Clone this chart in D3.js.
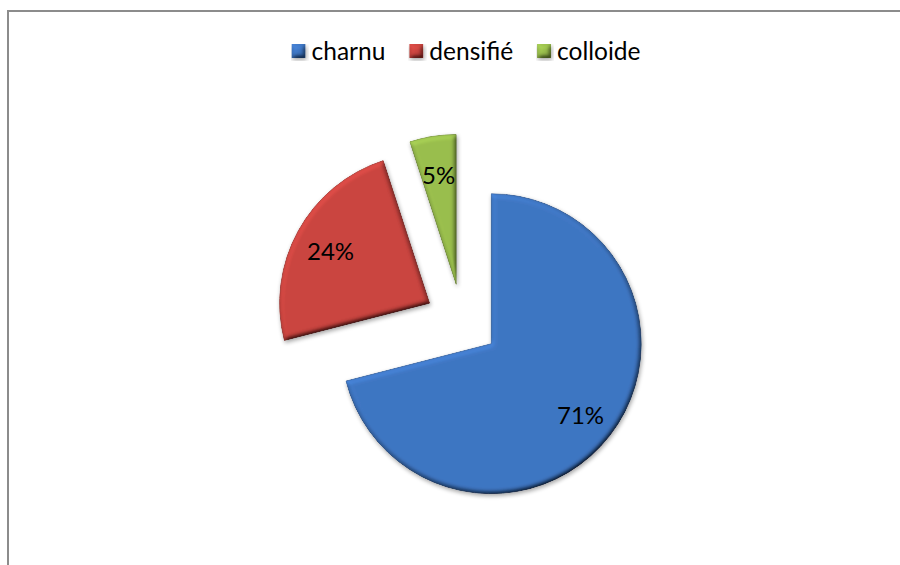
<!DOCTYPE html>
<html>
<head>
<meta charset="utf-8">
<script src="https://cdn.jsdelivr.net/npm/d3@7"></script>
<style>
  body { margin: 0; background: #fff; }
  text { font-family: Lato, "Open Sans", sans-serif; fill: #000; }
</style>
</head>
<body>
<div class="PieVis"></div>
<script>
// données
var categories = ["charnu", "densifié", "colloide"];
var values = [71, 24, 5];
var colors = ["#3f77c4", "#cb4540", "#9abf4d"];

var width = 900;
var height = 565;
var cx = 462, cy = 321;
var radius = 150;
var explode = 37;
var labelR = 113;

var svg = d3.select(".PieVis")
  .append("svg")
  .attr("width", width)
  .attr("height", height);

var defs = svg.append("defs");

// effet biseau
var f = defs.append("filter")
  .attr("id", "bevel")
  .attr("x", "-10%").attr("y", "-10%")
  .attr("width", "130%").attr("height", "130%");
f.append("feGaussianBlur")
  .attr("in", "SourceAlpha")
  .attr("stdDeviation", 2.5)
  .attr("result", "blur");
f.append("feDiffuseLighting")
  .attr("in", "blur")
  .attr("surfaceScale", 4)
  .attr("diffuseConstant", 1)
  .attr("lighting-color", "#fff")
  .attr("result", "light")
  .append("feDistantLight")
  .attr("azimuth", 235)
  .attr("elevation", 55);
f.append("feComposite")
  .attr("in", "SourceGraphic")
  .attr("in2", "light")
  .attr("operator", "arithmetic")
  .attr("k1", 1.2).attr("k2", 0).attr("k3", 0).attr("k4", 0)
  .attr("result", "lit");
f.append("feComposite")
  .attr("in", "lit")
  .attr("in2", "SourceAlpha")
  .attr("operator", "in")
  .attr("result", "shape");
f.append("feGaussianBlur")
  .attr("in", "SourceAlpha")
  .attr("stdDeviation", 2)
  .attr("result", "sblur");
f.append("feOffset")
  .attr("in", "sblur")
  .attr("dx", 1).attr("dy", 2)
  .attr("result", "soff");
f.append("feComponentTransfer")
  .attr("in", "soff")
  .attr("result", "shadow")
  .append("feFuncA")
  .attr("type", "linear")
  .attr("slope", 0.35);
var fm = f.append("feMerge");
fm.append("feMergeNode").attr("in", "shadow");
fm.append("feMergeNode").attr("in", "shape");

// cadre
svg.append("rect")
  .attr("x", 8)
  .attr("y", 11)
  .attr("width", width + 20)
  .attr("height", height + 20)
  .attr("fill", "none")
  .attr("stroke", "#8c8c8c")
  .attr("stroke-width", 2);

var pie = d3.pie().sort(null).value(function (d) { return d; });
var arcs = pie(values);

var arc = d3.arc()
  .innerRadius(0)
  .outerRadius(radius);

function offset(d, dist) {
  var a = (d.startAngle + d.endAngle) / 2;
  return [Math.sin(a) * dist, -Math.cos(a) * dist];
}

var pieG = svg.append("g")
  .attr("transform", "translate(" + cx + "," + cy + ")");

var slices = pieG.selectAll(".slice")
  .data(arcs)
  .enter().append("g")
  .attr("class", "slice")
  .attr("transform", function (d) {
    var o = offset(d, explode);
    return "translate(" + o[0] + "," + o[1] + ")";
  });

slices.append("path")
  .attr("d", arc)
  .attr("fill", function (d, i) { return colors[i]; })
  .attr("stroke", function (d, i) { return d3.color(colors[i]).darker(0.6); })
  .attr("stroke-width", 0.8)
  .attr("filter", "url(#bevel)");

slices.append("text")
  .attr("x", function (d) { return offset(d, labelR)[0]; })
  .attr("y", function (d) { return offset(d, labelR)[1] + 3; })
  .attr("text-anchor", "middle")
  .attr("dy", "0.35em")
  .style("font-size", "24px")
  .text(function (d) {
    var total = d3.sum(values);
    return Math.round(d.value / total * 100) + "%";
  });

// légende
var legend = svg.append("g");
var lx = 0;
var sw = 14;
categories.forEach(function (c, i) {
  var item = legend.append("g").attr("transform", "translate(" + lx + ",0)");
  item.append("rect")
    .attr("x", 0)
    .attr("y", -sw / 2)
    .attr("width", sw)
    .attr("height", sw)
    .attr("fill", colors[i])
    .attr("filter", "url(#bevel)");
  var t = item.append("text")
    .attr("x", sw + 6)
    .attr("y", 0)
    .attr("dy", "0.35em")
    .style("font-size", "24.5px")
    .text(c);
  lx += sw + 6 + t.node().getComputedTextLength() + 24;
});
var lw = lx - 24;
legend.attr("transform", "translate(" + (466 - lw / 2) + "," + 51 + ")");
</script>
</body>
</html>
